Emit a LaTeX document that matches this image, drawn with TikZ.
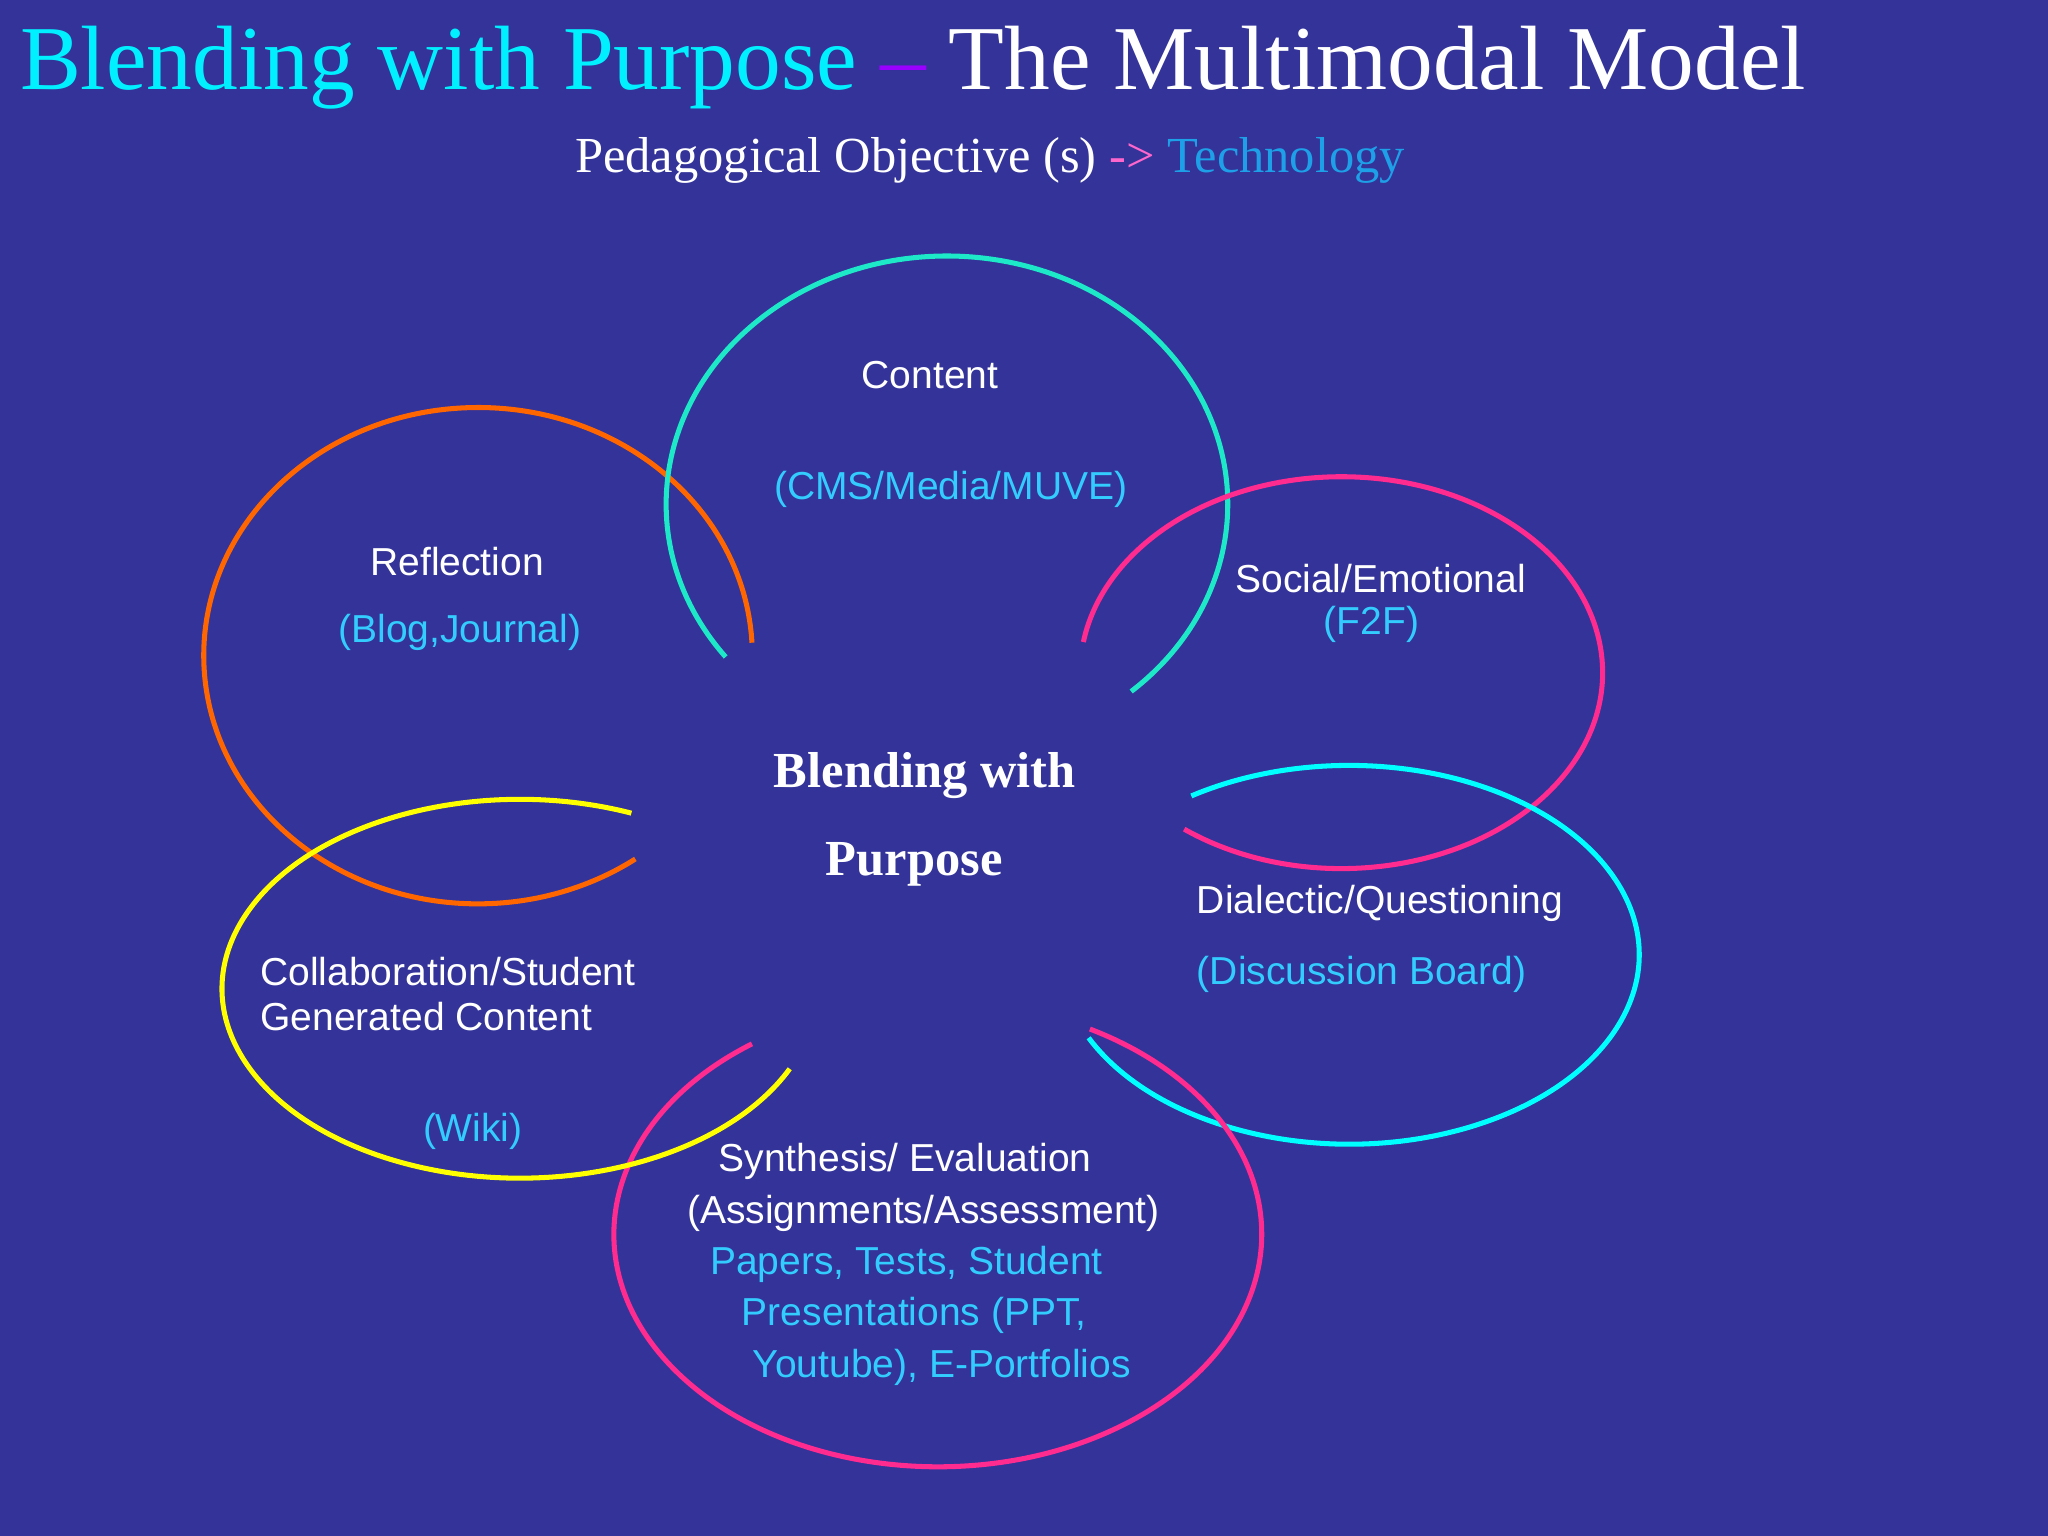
\documentclass[tikz,border=0pt]{standalone}
\usepackage{fontspec}
\setmainfont{Liberation Serif}
\newfontfamily\sansf{Liberation Sans}
\definecolor{bg}{RGB}{51,51,153}
\definecolor{ttlcyan}{RGB}{0,240,255}
\definecolor{dashp}{RGB}{153,0,255}
\definecolor{arrp}{RGB}{255,102,204}
\definecolor{techb}{RGB}{30,160,232}
\definecolor{lblue}{RGB}{51,204,255}
\definecolor{corange}{RGB}{255,102,0}
\definecolor{cteal}{RGB}{29,232,200}
\definecolor{cpink}{RGB}{255,43,143}
\definecolor{ccyan}{RGB}{0,255,255}
\definecolor{cyellow}{RGB}{255,255,0}
\begin{document}
\begin{tikzpicture}[x=0.02cm,y=0.02cm,
  ring/.style={line width=2.2pt},
  lbl/.style={font=\sansf\fontsize{17}{20}\selectfont, text=white, inner sep=0},
  blu/.style={lbl, text=lblue}]
\fill[bg] (0,0) rectangle (1568,-1176);
\useasboundingbox (0,0) rectangle (1568,-1176);
% rings
\draw[ring,corange] ([shift={(3:210 and 190)}]366,-502) arc[start angle=3,end angle=305,x radius=210,y radius=190];
\draw[ring,cteal] ([shift={(-49:215 and 190)}]725,-386) arc[start angle=-49,end angle=218,x radius=215,y radius=190];
\draw[ring,cpink] ([shift={(233:200 and 150)}]1027,-515) arc[start angle=233,end angle=531,x radius=200,y radius=150];
\draw[ring,ccyan] ([shift={(-154:222 and 145)}]1033,-731) arc[start angle=-154,end angle=123,x radius=222,y radius=145];
\draw[ring,cpink] ([shift={(125:248 and 178)}]718,-945) arc[start angle=125,end angle=422,x radius=248,y radius=178];
\draw[ring,cyellow] ([shift={(68:228 and 145)}]398,-757) arc[start angle=68,end angle=335,x radius=228,y radius=145];
% title
\node[anchor=west,inner sep=0,font=\fontsize{39.8}{46}\selectfont] (title) at (15,-52)
  {\textcolor{ttlcyan}{Blending with Purpose} \textcolor{dashp}{--} \textcolor{white}{The Multimodal Model}};
\node[inner sep=0,font=\fontsize{22}{26}\selectfont,text=white] (sub) at (758,-123)
  {Pedagogical Objective (s) \textcolor{arrp}{->} \textcolor{techb}{Technology}};
% labels
\node[lbl] (content) at (712,-287) {Content};
\node[blu] (cms) at (728,-375) {(CMS/Media/MUVE)};
\node[lbl] (refl) at (350,-430) {Reflection};
\node[blu] (blog) at (352,-484) {(Blog,Journal)};
\node[lbl] (social) at (1057,-443) {Social/Emotional};
\node[blu] (f2f) at (1050,-478) {(F2F)};
\node[inner sep=0,text=white,font=\bfseries\fontsize{22}{26}\selectfont] (c1) at (708,-594) {Blending with};
\node[inner sep=0,text=white,font=\bfseries\fontsize{22}{26}\selectfont] (c2) at (700,-662) {Purpose};
\node[lbl,anchor=west] (dial) at (916,-692) {Dialectic/Questioning};
\node[blu,anchor=west] (disc) at (916,-746) {(Discussion Board)};
\node[lbl,anchor=west] (coll1) at (199,-744) {Collaboration/Student};
\node[lbl,anchor=west] (coll2) at (199,-778) {Generated Content};
\node[blu] (wiki) at (362,-866) {(Wiki)};
\node[lbl] (syn1) at (693,-889) {Synthesis/ Evaluation};
\node[lbl] (syn2) at (707,-929) {(Assignments/Assessment)};
\node[blu] (syn3) at (694,-968) {Papers, Tests, Student};
\node[blu] (syn4) at (700,-1007) {Presentations (PPT,};
\node[blu] (syn5) at (721,-1047) {Youtube), E-Portfolios};
\end{tikzpicture}
\end{document}
